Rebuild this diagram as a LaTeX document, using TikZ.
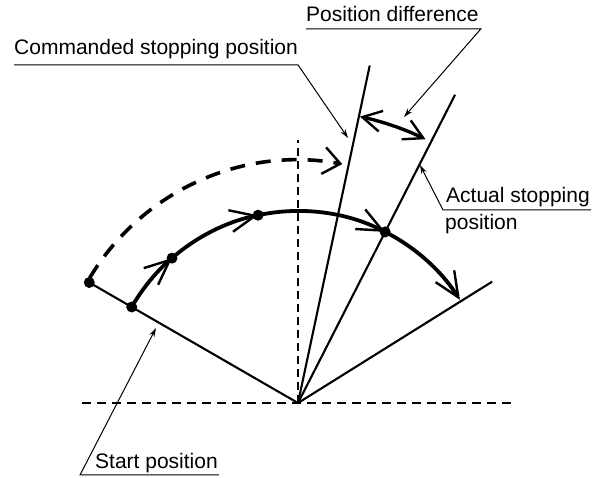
\documentclass[tikz,border=0pt]{standalone}
\usepackage{fontspec}
\setmainfont{Liberation Sans}
\usetikzlibrary{arrows.meta, calc}
\tikzset{
  ray/.style     = {line width=2.1pt},
  motion/.style  = {line width=3.8pt,
                    -{Straight Barb[length=25pt, width=22pt, line width=2.4pt]}},
  cmdpath/.style = {line width=3.6pt, dash pattern=on 15pt off 11pt,
                    -{Straight Barb[length=17pt, width=27pt, line width=2.4pt]}},
  gap/.style     = {line width=3.4pt,
                    {Straight Barb[length=19pt, width=21pt, line width=2.4pt]}-{Straight Barb[length=19pt, width=21pt, line width=2.4pt]}},
  axis/.style    = {line width=1.3pt, dash pattern=on 9pt off 6pt},
  vaxis/.style   = {line width=2.6pt, dash pattern=on 8pt off 5pt},
  leader/.style  = {line width=1pt, -{Stealth[length=9pt, width=5.5pt]}},
  lbl/.style     = {font=\fontsize{21}{25}\selectfont, inner sep=0pt, anchor=base west},
  dot/.style     = {circle, fill, inner sep=0pt, minimum size=11pt}
}

\begin{document}
\begin{tikzpicture}[x=1pt, y=1pt]
  \useasboundingbox (0,0) rectangle (600,478);

  % ── Pivot and reference axes ──────────────────────────────────────────────
  \coordinate (O)    at (298,75);
  \coordinate (axL)  at (82,75);
  \coordinate (axR)  at (516,75);
  \coordinate (vTop) at (298,338);
  \draw[axis]  (axL) -- (axR);
  \draw[vaxis] (O) -- (vTop);

  % ── Radial lines ──────────────────────────────────────────────────────────
  \coordinate (startEnd) at ($(O)+(150:241)$);
  \coordinate (rightEnd) at ($(O)+(32:229)$);
  \coordinate (actEnd)   at ($(O)+(63:346)$);
  \coordinate (cmdEnd)   at ($(O)+(78:345)$);
  \draw[ray] (startEnd) -- (O) -- (rightEnd);
  \draw[ray] (O) -- (actEnd);
  \draw[ray] (O) -- (cmdEnd);

  % ── Commanded motion (dashed) ─────────────────────────────────────────────
  \coordinate (cmd0) at ($(O)+(149:243)$);
  \draw[cmdpath] (cmd0) arc[start angle=149, end angle=79.5, radius=243];

  % ── Actual motion (solid) ─────────────────────────────────────────────────
  \coordinate (m0) at ($(O)+(150:192)$);
  \coordinate (m1) at ($(O)+(131:192)$);
  \coordinate (m2) at ($(O)+(102:192)$);
  \coordinate (m3) at ($(O)+(63:192)$);
  \draw[motion] (m0) arc[start angle=150, end angle=131, radius=192];
  \draw[motion] (m1) arc[start angle=131, end angle=102, radius=192];
  \draw[motion] (m2) arc[start angle=102, end angle=63, radius=192];
  \draw[motion] (m3) arc[start angle=63, end angle=32.5, radius=192];

  \node[dot] (dotS) at (startEnd) {};
  \node[dot] (dot0) at (m0) {};
  \node[dot] (dot1) at (m1) {};
  \node[dot] (dot2) at (m2) {};
  \node[dot] (dot3) at (m3) {};

  % ── Position difference ───────────────────────────────────────────────────
  \coordinate (pd0) at ($(O)+(77.8:293)$);
  \draw[gap] (pd0) arc[start angle=77.8, end angle=64.2, radius=293];

  % ── Labels with leaders ───────────────────────────────────────────────────
  \node[lbl] (cmdlbl) at (14,423) {Commanded stopping position};
  \coordinate (cmdTip) at (348,340);
  \draw[leader] ($(cmdlbl.base west)+(0,-10)$) -- ($(cmdlbl.base east)+(0,-10)$) -- (cmdTip);

  \node[lbl] (pdlbl) at (306,456) {Position difference};
  \coordinate (pdTip) at (404,361);
  \draw[leader] ($(pdlbl.base west)+(0,-7)$) -- ($(pdlbl.base east)+(2,-7)$) -- (pdTip);

  \node[lbl] (actlbl)  at (446,275) {Actual stopping};
  \node[lbl] (actlbl2) at (445,248) {position};
  \coordinate (actTip) at (420,313);
  \draw[leader] ($(actlbl.base east)+(1,-7)$) -- ($(actlbl.base west)+(-3,-7)$) -- (actTip);

  \node[lbl] (stlbl) at (95,9) {Start position};
  \coordinate (stTip) at (156,150);
  \draw[leader] ($(stlbl.base east)+(1,-6)$) -- ($(stlbl.base west)+(-15,-6)$) -- (stTip);

\end{tikzpicture}
\end{document}
